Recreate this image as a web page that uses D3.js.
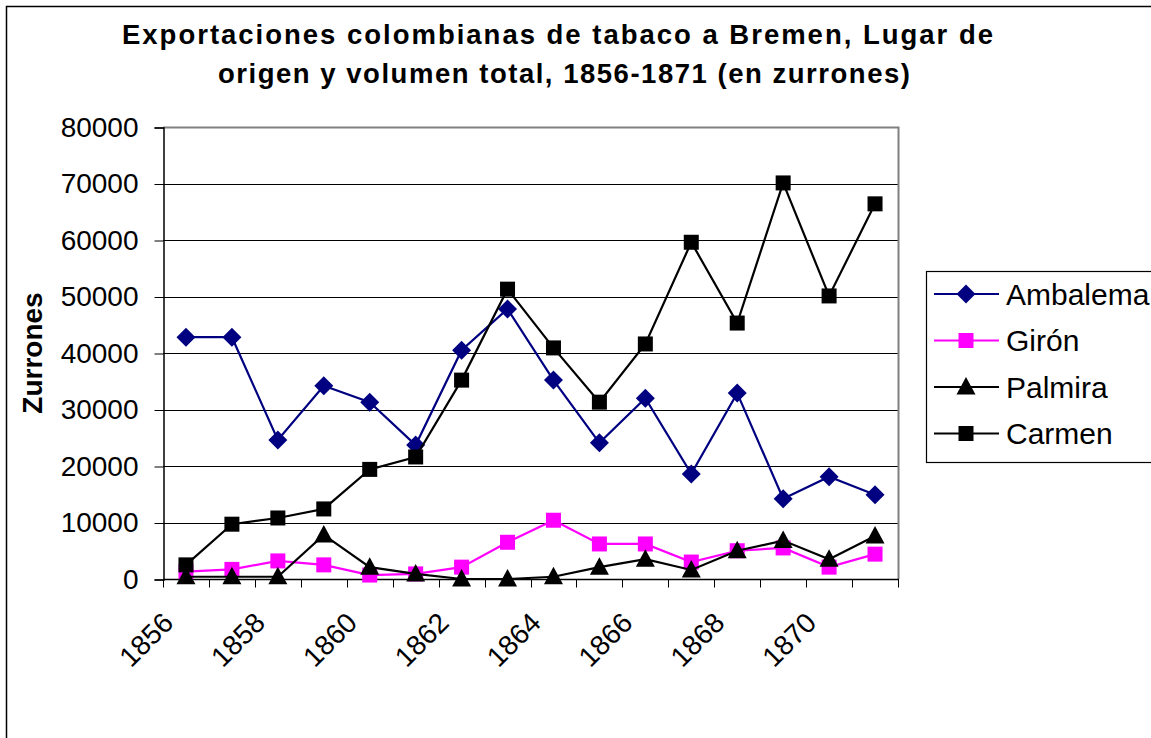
<!DOCTYPE html>
<html>
<head>
<meta charset="utf-8">
<script src="https://cdn.jsdelivr.net/npm/d3@7"></script>
<style>
  body { margin: 0; background: #fff; }
  svg { display: block; font-family: "Liberation Sans", Arial, sans-serif; }
</style>
</head>
<body>
<svg width="1151" height="738"></svg>
<script>
// Data (zurrones)
const years = d3.range(1856, 1872);
const ambalema = [42800, 42800, 24600, 34200, 31300, 23700, 40500, 47800, 35200, 24100, 32000, 18600, 32900, 14200, 18100, 14900];
const giron    = [1300, 1700, 3200, 2500, 700, 900, 2100, 6500, 10400, 6200, 6200, 3000, 5000, 5500, 2100, 4400];
const palmira  = [400, 400, 400, 7800, 2100, 900, 0, 0, 400, 2100, 3500, 1600, 5000, 6800, 3500, 7600];
const carmen   = [2500, 9700, 10800, 12400, 19400, 21600, 35200, 51300, 40900, 31300, 41600, 59600, 45300, 70100, 50100, 66400];
const yTicks = d3.range(0, 80001, 10000);
const xLabels = [1856, 1858, 1860, 1862, 1864, 1866, 1868, 1870];

const series = [
    { name: "Ambalema", values: ambalema, color: "#000080", marker: "diamond" },
    { name: "Girón", values: giron, color: "#ff00ff", marker: "square" },
    { name: "Palmira", values: palmira, color: "#000000", marker: "triangle" },
    { name: "Carmen", values: carmen, color: "#000000", marker: "square" }
];

const svg = d3.select("svg");
const plot = { left: 163, right: 898, top: 127, bottom: 579 };

// outer chart border
svg.append("rect")
    .attr("x", 6.5).attr("y", 6.5)
    .attr("width", 1200).attr("height", 800)
    .attr("fill", "#fff").attr("stroke", "#000").attr("stroke-width", 1.5);

// title (Excel spreads the letters a bit)
svg.append("text")
    .attr("x", 122).attr("y", 44)
    .attr("font-size", 27.5).attr("font-weight", "bold")
    .attr("textLength", 871).attr("lengthAdjust", "spacing")
    .text("Exportaciones colombianas de tabaco a Bremen, Lugar de");
svg.append("text")
    .attr("x", 218).attr("y", 83)
    .attr("font-size", 27.5).attr("font-weight", "bold")
    .attr("textLength", 692).attr("lengthAdjust", "spacing")
    .text("origen y volumen total, 1856-1871 (en zurrones)");

const x = d3.scaleBand().domain(years).range([plot.left, plot.right]);
const y = d3.scaleLinear().domain([0, 80000]).range([plot.bottom, plot.top]);
const cx = d => x(d) + x.bandwidth() / 2;

// gridlines
svg.append("g")
    .selectAll("line")
    .data(yTicks.slice(1))
    .join("line")
    .attr("x1", plot.left).attr("x2", plot.right)
    .attr("y1", d => Math.round(y(d)) + 0.5).attr("y2", d => Math.round(y(d)) + 0.5)
    .attr("stroke", "#000").attr("stroke-width", 1);

// plot border top/right
svg.append("path")
    .attr("d", `M${plot.left},${plot.top + 0.5}H${plot.right + 0.5}V${plot.bottom}`)
    .attr("fill", "none").attr("stroke", "#808080").attr("stroke-width", 2);

// y axis
const yAxis = svg.append("g")
    .attr("transform", `translate(${plot.left + 0.5},0.5)`)
    .call(d3.axisLeft(y).tickValues(yTicks).tickFormat(d3.format("d")).tickSize(9).tickPadding(16));
yAxis.select(".domain").attr("stroke", "#000").attr("stroke-width", 1.5);
yAxis.selectAll(".tick line").attr("stroke", "#000");
yAxis.selectAll("text").attr("font-size", 28).attr("font-family", "Liberation Sans, Arial, sans-serif").attr("fill", "#000");

// x axis (category boundaries)
const xAxis = svg.append("g").attr("transform", `translate(0,${plot.bottom + 0.5})`);
xAxis.append("line")
    .attr("x1", plot.left).attr("x2", plot.right + 1)
    .attr("stroke", "#000").attr("stroke-width", 1.5);
xAxis.selectAll(".tk")
    .data(years.concat([null]))
    .join("line")
    .attr("class", "tk")
    .attr("x1", (d, i) => Math.round(plot.left + i * x.bandwidth()) + 0.5)
    .attr("x2", (d, i) => Math.round(plot.left + i * x.bandwidth()) + 0.5)
    .attr("y1", 0).attr("y2", 8)
    .attr("stroke", "#000");
xAxis.selectAll(".lbl")
    .data(xLabels)
    .join("text")
    .attr("class", "lbl")
    .attr("text-anchor", "end")
    .attr("font-size", 28)
    .attr("transform", d => `translate(${cx(d) - 11},${45}) rotate(-45)`)
    .text(d => d);

// y axis title
svg.append("text")
    .attr("transform", "translate(42,353) rotate(-90)")
    .attr("text-anchor", "middle")
    .attr("font-size", 28).attr("font-weight", "bold")
    .text("Zurrones");

function drawMarker(g, type, color) {
    if (type === "diamond") {
        g.append("path").attr("d", "M0,-9.5L9.5,0L0,9.5L-9.5,0Z").attr("fill", color);
    } else if (type === "square") {
        g.append("rect").attr("x", -7.5).attr("y", -7.5).attr("width", 15).attr("height", 15).attr("fill", color);
    } else {
        g.append("path").attr("d", "M0,-10L9.5,7.5L-9.5,7.5Z").attr("fill", color);
    }
}

const line = d3.line().x((d, i) => cx(years[i])).y(d => y(d));

series.forEach(s => {
    const g = svg.append("g");
    g.append("path")
        .attr("d", line(s.values))
        .attr("fill", "none").attr("stroke", s.color).attr("stroke-width", 2.2);
    g.selectAll(".m")
        .data(s.values)
        .join("g")
        .attr("transform", (d, i) => `translate(${cx(years[i])},${y(d)})`)
        .each(function () { drawMarker(d3.select(this), s.marker, s.color); });
});

// legend
const legend = svg.append("g");
legend.append("rect")
    .attr("x", 926.5).attr("y", 271.5)
    .attr("width", 260).attr("height", 191)
    .attr("fill", "#fff").attr("stroke", "#000").attr("stroke-width", 1.2);
series.forEach((s, i) => {
    const ly = 294 + i * 46.5;
    const item = legend.append("g");
    item.append("line")
        .attr("x1", 934).attr("x2", 999).attr("y1", ly).attr("y2", ly)
        .attr("stroke", s.color).attr("stroke-width", 2);
    drawMarker(item.append("g").attr("transform", `translate(966,${ly})`), s.marker, s.color);
    item.append("text")
        .attr("x", 1006).attr("y", ly + 10.5)
        .attr("font-size", 30)
        .text(s.name);
});
</script>
</body>
</html>
